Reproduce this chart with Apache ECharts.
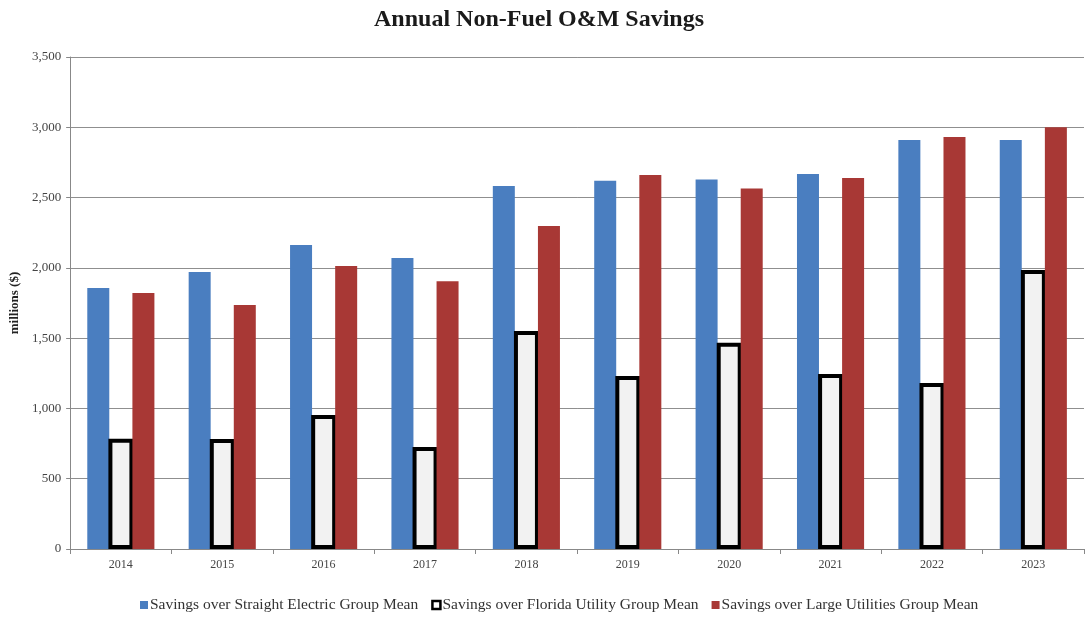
<!DOCTYPE html>
<html>
<head>
<meta charset="utf-8">
<script src="https://cdn.jsdelivr.net/npm/echarts@6/dist/echarts.min.js"></script>
<style>
  html, body { margin: 0; padding: 0; background: #fff; }
  #chart { width: 1086px; height: 619px; }
</style>
</head>
<body>
<div id="chart"></div>
<script>
// years on the x axis
const years = ['2014', '2015', '2016', '2017', '2018', '2019', '2020', '2021', '2022', '2023'];
// savings, millions of dollars
const straightElectric = [1857, 1970, 2163, 2070, 2582, 2620, 2628, 2668, 2910, 2910];
const floridaUtility = [785, 782, 953, 726, 1551, 1231, 1468, 1245, 1181, 1985];
const largeUtilities = [1821, 1736, 2013, 1905, 2298, 2661, 2565, 2640, 2931, 3000];

const serif = "'Liberation Serif', 'DejaVu Serif', serif";

const chart = echarts.init(document.getElementById('chart'));
const option = {
  animation: false,
  textStyle: { fontFamily: serif },
  title: {
    text: 'Annual Non-Fuel O&M Savings',
    left: 369,
    top: 3,
    textStyle: { fontFamily: serif, fontSize: 24, fontWeight: 'bold', color: '#1a1a1a' }
  },
  legend: {
    bottom: 1,
    left: 135,
    itemWidth: 8,
    itemHeight: 8,
    itemGap: 13,
    textStyle: { fontFamily: serif, fontSize: 15.5, color: '#333', padding: [0, 0, 0, -3] },
    data: [
      { name: 'Savings over Straight Electric Group Mean', icon: 'rect' },
      { name: 'Savings over Florida Utility Group Mean', icon: 'rect', itemStyle: { color: '#fff', borderColor: '#000', borderWidth: 2.5 } },
      { name: 'Savings over Large Utilities Group Mean', icon: 'rect' }
    ]
  },
  grid: { left: 70, right: 2, top: 57, bottom: 70 },
  xAxis: {
    type: 'category',
    data: years,
    axisLine: { lineStyle: { color: '#888' } },
    axisTick: { show: true, length: 5, inside: false, lineStyle: { color: '#888' } },
    axisLabel: { fontFamily: serif, fontSize: 12, color: '#444', margin: 10 }
  },
  yAxis: {
    type: 'value',
    min: 0,
    max: 3500,
    interval: 500,
    name: 'millions ($)',
    nameLocation: 'middle',
    nameGap: 44,
    nameTextStyle: { fontFamily: serif, fontSize: 13, fontWeight: 'bold', color: '#222' },
    axisLine: { show: true, lineStyle: { color: '#888' } },
    axisTick: { show: true, length: 4, lineStyle: { color: '#888' } },
    splitLine: { lineStyle: { color: '#8f8f8f', width: 1 } },
    axisLabel: {
      fontFamily: serif, fontSize: 13, color: '#444', margin: 9,
      formatter: v => v.toLocaleString('en-US')
    }
  },
  series: [
    {
      name: 'Savings over Straight Electric Group Mean',
      type: 'bar',
      data: straightElectric,
      barWidth: 22,
      barGap: '-4%',
      itemStyle: { color: '#4a7ec0' }
    },
    {
      name: 'Savings over Florida Utility Group Mean',
      type: 'bar',
      data: floridaUtility,
      barWidth: 25,
      barGap: '-4%',
      itemStyle: { color: '#f2f2f2', borderColor: '#000', borderWidth: 4 }
    },
    {
      name: 'Savings over Large Utilities Group Mean',
      type: 'bar',
      data: largeUtilities,
      barWidth: 22,
      barGap: '-4%',
      itemStyle: { color: '#a83835' }
    }
  ]
};
chart.setOption(option);
</script>
</body>
</html>
